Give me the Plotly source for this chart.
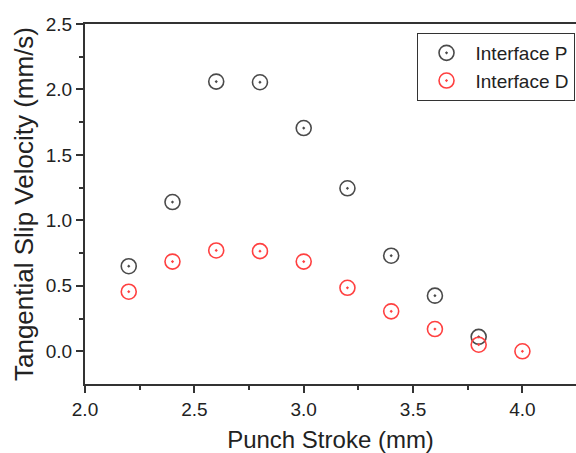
import plotly.graph_objects as go

stroke_p = [2.2, 2.4, 2.6, 2.8, 3.0, 3.2, 3.4, 3.6, 3.8]
vel_p = [0.65, 1.14, 2.06, 2.055, 1.705, 1.245, 0.73, 0.425, 0.11]
stroke_d = [2.2, 2.4, 2.6, 2.8, 3.0, 3.2, 3.4, 3.6, 3.8, 4.0]
vel_d = [0.455, 0.685, 0.77, 0.765, 0.685, 0.485, 0.305, 0.17, 0.05, 0.0]
x_ticks = [2.0, 2.5, 3.0, 3.5, 4.0]
x_ticklabels = ["2.0", "2.5", "3.0", "3.5", "4.0"]
y_ticks = [0.0, 0.5, 1.0, 1.5, 2.0, 2.5]
y_ticklabels = ["0.0", "0.5", "1.0", "1.5", "2.0", "2.5"]

font_family = "Arial, Liberation Sans, sans-serif"

fig = go.Figure()
fig.add_trace(go.Scatter(
    x=stroke_p, y=vel_p, mode="markers", name="Interface P",
    marker=dict(symbol="circle-dot", size=15, color="rgba(0,0,0,0)",
                line=dict(color="#4a4a4a", width=1.6)),
))
fig.add_trace(go.Scatter(
    x=stroke_d, y=vel_d, mode="markers", name="Interface D",
    marker=dict(symbol="circle-dot", size=15, color="rgba(0,0,0,0)",
                line=dict(color="#ff4040", width=1.6)),
))

axis_common = dict(
    showgrid=False, zeroline=False, showline=True, linecolor="#333333",
    linewidth=2, ticks="outside", ticklen=7, tickwidth=1.5, tickcolor="#333333",
    tickfont=dict(family=font_family, size=19, color="#222222"),
)

fig.update_layout(
    width=576, height=453,
    margin=dict(l=85, r=0, t=24, b=69),
    paper_bgcolor="white", plot_bgcolor="white",
    font=dict(family=font_family, color="#222222"),
    xaxis=dict(range=[2.0, 4.245], tickvals=x_ticks, ticktext=x_ticklabels, mirror=True,
               minor=dict(tickvals=[2.25, 2.75, 3.25, 3.75, 4.25], ticklen=4,
                          ticks="outside", tickcolor="#333333", tickwidth=1.5),
               title=dict(text="Punch Stroke (mm)", font=dict(size=24, family=font_family),
                          standoff=14),
               **axis_common),
    yaxis=dict(range=[-0.25, 2.5], tickvals=y_ticks, ticktext=y_ticklabels, mirror=False,
               minor=dict(tickvals=[0.25, 0.75, 1.25, 1.75, 2.25], ticklen=4,
                          ticks="outside", tickcolor="#333333", tickwidth=1.5),
               title=dict(text="Tangential Slip Velocity (mm/s)",
                          font=dict(size=26, family=font_family), standoff=5),
               **axis_common),
    legend=dict(x=0.997, y=0.975, xanchor="right", yanchor="top",
                bordercolor="#333333", borderwidth=1, bgcolor="white",
                font=dict(size=19, family=font_family, color="#222222"),
                itemwidth=48, tracegroupgap=0),
    showlegend=True,
)

fig.write_html("out.html", config={"displayModeBar": False},
               post_script="document.body.style.margin='0';document.body.style.overflow='hidden';")
